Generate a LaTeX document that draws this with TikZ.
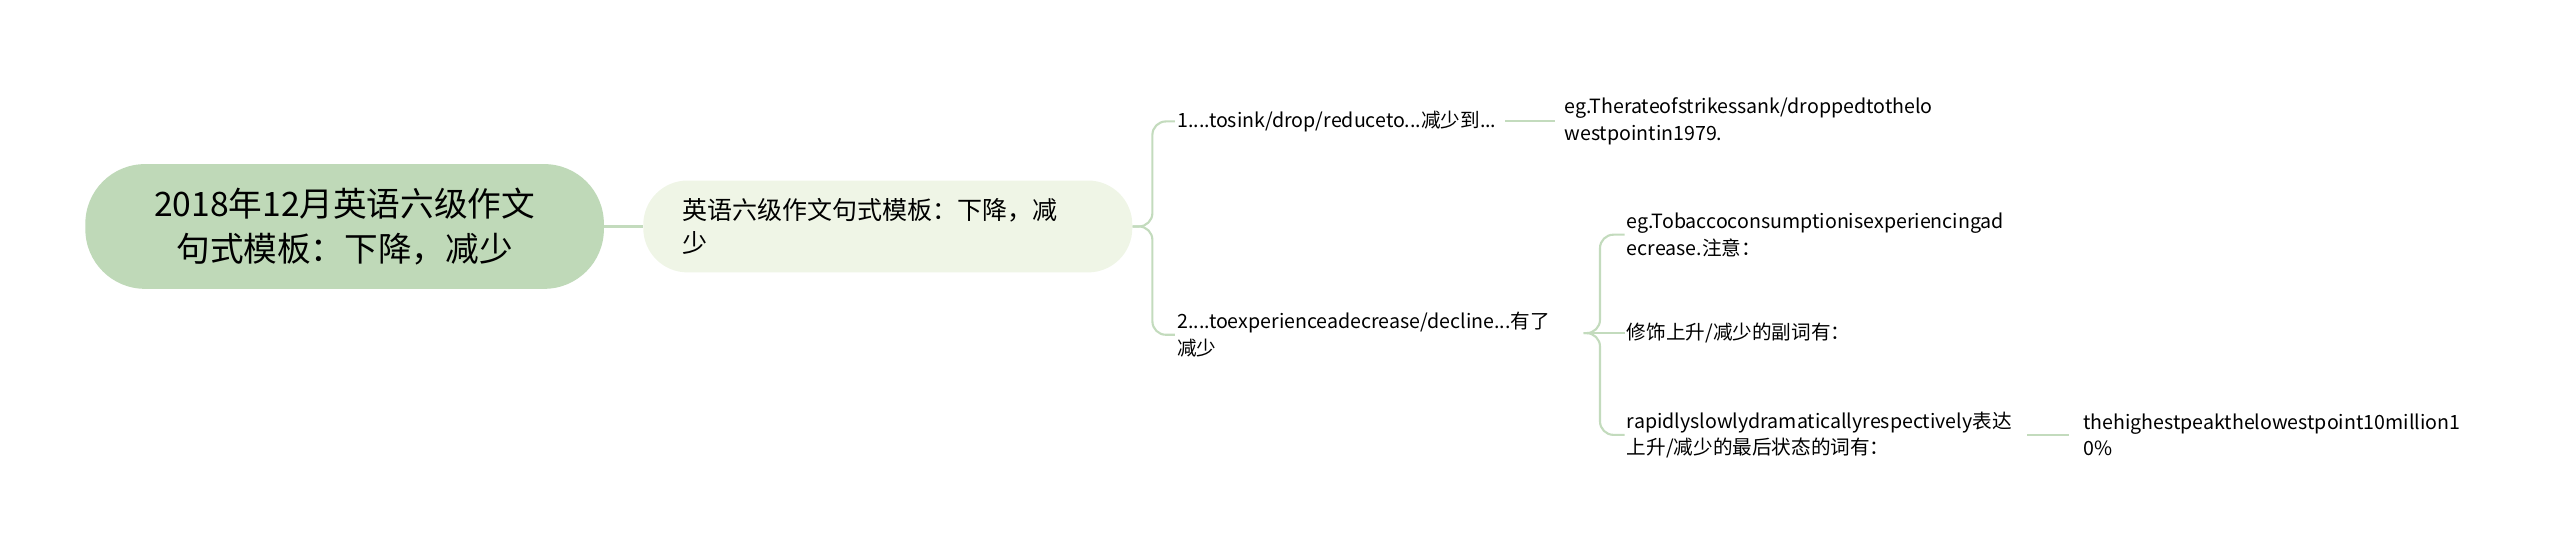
\documentclass[tikz,border=0pt]{standalone}
\usepackage{fontspec}
\setmainfont{Noto Sans CJK SC}
\usetikzlibrary{positioning}
\definecolor{rootfill}{HTML}{BFD9B8}
\definecolor{subfill}{HTML}{EFF5E6}
\definecolor{linkcol}{HTML}{C3DBBD}
\tikzset{
  rootbox/.style={fill=rootfill,rounded corners=31pt,minimum width=316*0.03cm,minimum height=76*0.03cm,align=center,font=\fontsize{17.5}{23}\selectfont},
  subbox/.style={fill=subfill,rounded corners=23pt,minimum width=298*0.03cm,minimum height=56*0.03cm,align=left,font=\fontsize{13}{17}\selectfont,text width=250*0.03cm},
  leaf/.style={anchor=west,align=left,inner sep=1pt,font=\fontsize{10.2}{13.8}\selectfont},
  link/.style={draw=linkcol,line width=1.1pt,rounded corners=7}
}
\begin{document}
\begin{tikzpicture}[x=0.03cm,y=-0.03cm]
\useasboundingbox (0,0) rectangle (1560,336);

\node[rootbox] (root) at (210,138) {2018年12月英语六级作文\\句式模板：下降，减少};
\node[subbox] (sub) at (541,138) {英语六级作文句式模板：下降，减\\少};

\node[leaf] (a1) at (716,74) {1....tosink/drop/reduceto...减少到...};
\node[leaf] (a2) at (716,204) {2....toexperienceadecrease/decline...有了\\减少};
\node[leaf] (a1e) at (952,74) {eg.Therateofstrikessank/droppedtothelo\\westpointin1979.};
\node[leaf] (b1) at (990,143) {eg.Tobaccoconsumptionisexperiencingad\\ecrease.注意：};
\node[leaf] (b2) at (990,203) {修饰上升/减少的副词有：};
\node[leaf] (b3) at (990,265) {rapidlyslowlydramaticallyrespectively表达\\上升/减少的最后状态的词有：};
\node[leaf] (b3e) at (1268,265) {thehighestpeakthelowestpoint10million1\\0\%};

\draw[link] (root.east) -- (sub.west);
\draw[link] (sub.east) -- ++(12,0) |- (a1.west);
\draw[link] (sub.east) -- ++(12,0) |- (a2.west);
\draw[link] (a1.east) ++(4,0) -- ([xshift=-4]a1e.west);
\draw[link] (965,203) -- ++(10,0) |- (b1.west);
\draw[link] (965,203) -- (b2.west);
\draw[link] (965,203) -- ++(10,0) |- (b3.west);
\draw[link] (b3.east) ++(8,0) -- ([xshift=-6]b3e.west);
\end{tikzpicture}
\end{document}
